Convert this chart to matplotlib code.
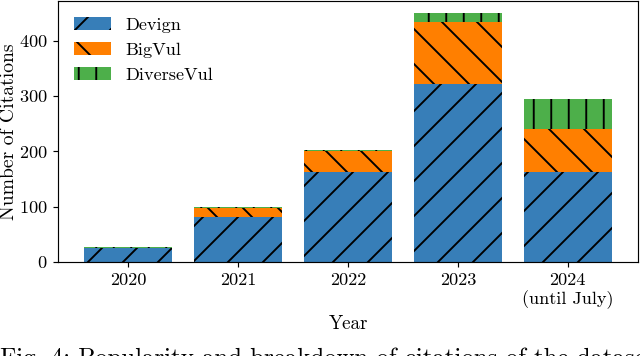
import numpy as np
import matplotlib
matplotlib.use("Agg")
import matplotlib.pyplot as plt

plt.rcParams['font.family'] = 'cmr10'
plt.rcParams['mathtext.fontset'] = 'cm'
plt.rcParams['axes.formatter.use_mathtext'] = True
plt.rcParams['font.size'] = 12.5
plt.rcParams['hatch.color'] = 'black'
plt.rcParams['hatch.linewidth'] = 1.3

years = ["2020", "2021", "2022", "2023", "2024\n(until July)"]
devign = [26, 81, 163, 322, 163]
bigvul = [0, 17, 38, 112, 78]
diversevul = [1, 1, 2, 15, 54]

dpi = 105
fig = plt.figure(figsize=(640 / dpi, 356 / dpi), dpi=dpi)
ax = fig.add_axes([58 / 640, 1 - 262 / 356, 580 / 640, 261 / 356])

x = np.arange(len(years))
b1 = np.array(devign)
b2 = b1 + np.array(bigvul)

ax.bar(x, devign, 0.8, color='#377eb8', hatch='/', label='Devign')
ax.bar(x, bigvul, 0.8, bottom=b1, color='#ff7f00', hatch='\\', label='BigVul')
ax.bar(x, diversevul, 0.8, bottom=b2, color='#4daf4a', hatch='|', label='DiverseVul')

ax.set_xticks(x)
ax.set_xticklabels(years)
ax.set_xlabel('Year', fontsize=13)
ax.set_ylabel('Number of Citations', fontsize=13.5, labelpad=1)
ax.set_yticks([0, 100, 200, 300, 400])
ax.legend(loc='upper left', frameon=False)

fig.text(0.0, 1 - 348 / 356, 'Fig. 4: Popularity and breakdown of citations of the datasets',
         fontsize=17, va='top', ha='left')

fig.savefig('out.png', dpi=dpi)
